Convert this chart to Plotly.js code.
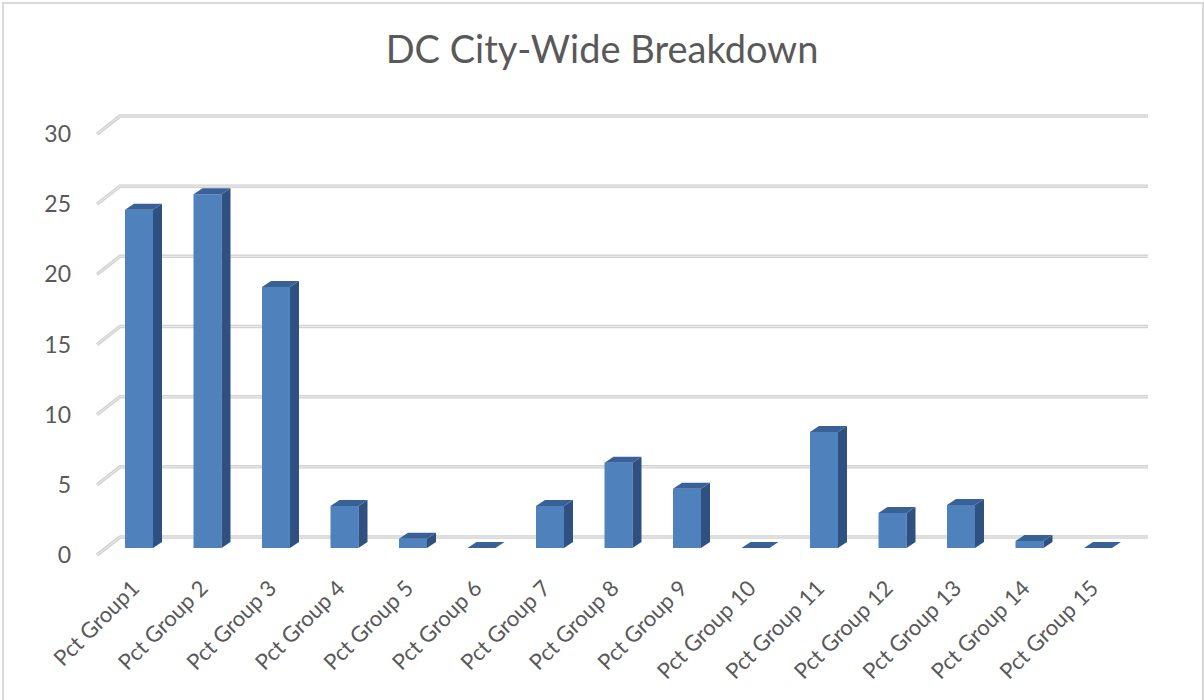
<!DOCTYPE html>
<html>
<head>
<meta charset="utf-8">
<script src="https://cdn.plot.ly/plotly-3.0.1.min.js"></script>
<style>
  html, body { margin: 0; padding: 0; background: #ffffff; }
  #frame { position: absolute; left: 2px; top: 2px; width: 1198px; height: 698px;
           border-left: 2px solid #d9d9d9; border-top: 2px solid #d9d9d9; border-right: 2px solid #d9d9d9; }
  #chart { position: absolute; left: 0; top: 0; width: 1204px; height: 700px; }
</style>
</head>
<body>
<div id="frame"></div>
<div id="chart"></div>
<script>
// ---- data ----
const categories = ["Pct Group1", "Pct Group 2", "Pct Group 3", "Pct Group 4", "Pct Group 5",
  "Pct Group 6", "Pct Group 7", "Pct Group 8", "Pct Group 9", "Pct Group 10",
  "Pct Group 11", "Pct Group 12", "Pct Group 13", "Pct Group 14", "Pct Group 15"];
const values = [24.1, 25.2, 18.6, 3.0, 0.66, 0, 3.0, 6.08, 4.23, 0, 8.27, 2.5, 3.06, 0.5, 0];
const yTicks = [0, 5, 10, 15, 20, 25, 30];

// ---- 3D look parameters (in axis units) ----
const PX_X = 68.5, PX_Y = 14.033;
const barW = 28 / PX_X;
const depthX = 9 / PX_X, depthY = 6 / PX_Y;
const barBase = 7 / PX_Y;              // bar plane sits behind the front plane
const frontLeft = (97 - 139) / PX_X, backLeft = (120 - 139) / PX_X, backRight = (1148 - 139) / PX_X;
const backDY = 18 / PX_Y;

const idx = categories.map((_, i) => i);
const traces = [];

// gridlines (front diagonal + back wall line)
const gx = [], gy = [];
yTicks.forEach(t => {
  gx.push(frontLeft, backLeft, backRight, null);
  gy.push(t, t + backDY, t + backDY, null);
});
traces.push({type: 'scatter', mode: 'lines', x: gx, y: gy, hoverinfo: 'skip',
  line: {color: '#d2d2d2', width: 3.5}});
traces.push({type: 'scatter', mode: 'lines', x: gx, y: gy, hoverinfo: 'skip',
  line: {color: '#ececec', width: 1}});

// bars: front, side & top faces
idx.forEach(i => {
  const v = values[i], b = barBase, r = i + barW / 2, l = i - barW / 2;
  traces.push({type: 'scatter', mode: 'lines', fill: 'toself', hoverinfo: 'skip',
    x: [l, r, r, l, l], y: [b, b, b + v, b + v, b],
    fillcolor: '#4f81bd', line: {width: 0, color: '#4f81bd'}});
  traces.push({type: 'scatter', mode: 'lines', fill: 'toself', hoverinfo: 'skip',
    x: [r, r + depthX, r + depthX, r, r], y: [b, b + depthY, b + v + depthY, b + v, b],
    fillcolor: '#2f5181', line: {width: 0, color: '#2f5181'}});
  traces.push({type: 'scatter', mode: 'lines', fill: 'toself', hoverinfo: 'skip',
    x: [l, r, r + depthX, l + depthX, l], y: [b + v, b + v, b + v + depthY, b + v + depthY, b + v],
    fillcolor: '#3a6197', line: {width: 0, color: '#3a6197'}});
});

const mL = 84, mR = 51, mT = 100, mB = 140;
const layout = {
  width: 1204, height: 700,
  paper_bgcolor: 'rgba(0,0,0,0)', plot_bgcolor: 'rgba(0,0,0,0)',
  margin: {l: mL, r: mR, t: mT, b: mB, pad: 0},
  showlegend: false,
  font: {family: 'Lato, "Open Sans", sans-serif', color: '#595959'},
  title: {text: 'DC City-Wide Breakdown', xref: 'container', x: 0.5, xanchor: 'center',
    yref: 'container', y: 1 - 50 / 700, yanchor: 'middle',
    font: {family: 'Lato, sans-serif', size: 38, color: '#595959'}},
  xaxis: {
    range: [-(139 - mL) / PX_X, (1204 - mR - 139) / PX_X],
    tickmode: 'array', tickvals: idx, ticktext: categories, tickangle: -45,
    showgrid: false, zeroline: false, showline: false, ticks: '',
    ticklabelstandoff: 10, ticklabelshift: -6,
    tickfont: {family: 'Lato, sans-serif', size: 22, color: '#595959'}, fixedrange: true
  },
  yaxis: {
    range: [-(mT + (700 - mT - mB) - 555) / PX_Y, (555 - mT) / PX_Y],
    tickmode: 'array', tickvals: yTicks,
    showgrid: false, zeroline: false, showline: false, ticks: '',
    ticklabelstandoff: 12,
    tickfont: {family: 'Lato, sans-serif', size: 23, color: '#595959'}, fixedrange: true
  }
};

Plotly.newPlot('chart', traces, layout, {displayModeBar: false, staticPlot: true});
</script>
</body>
</html>
